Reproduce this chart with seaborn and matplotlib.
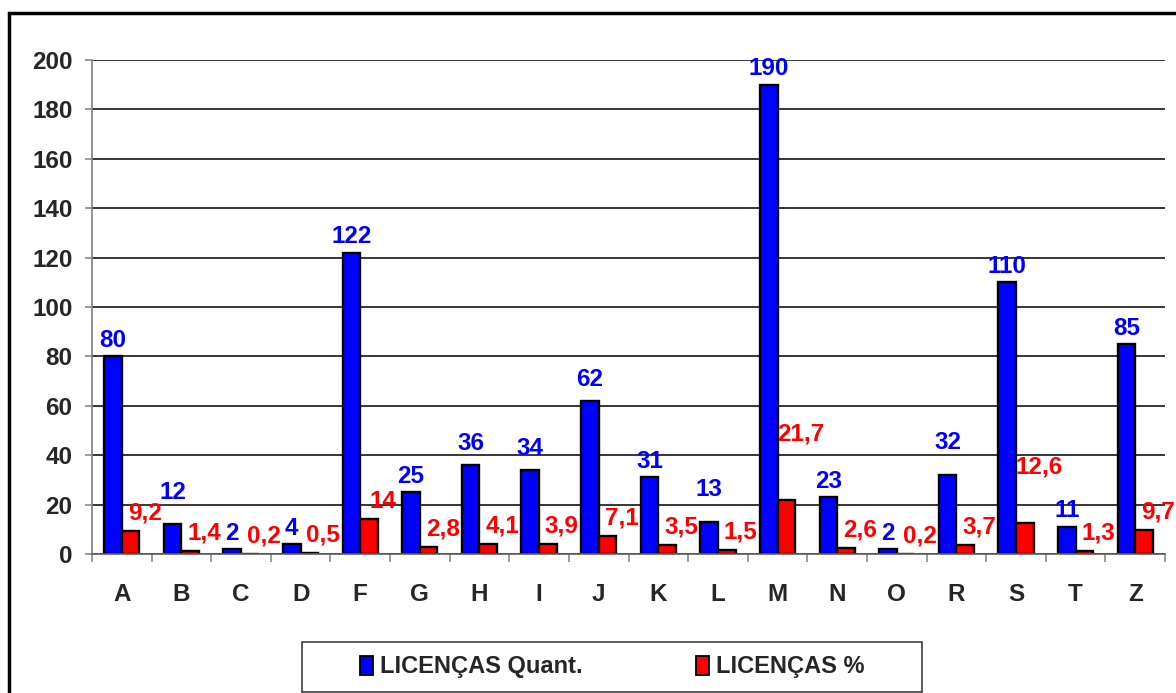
import matplotlib
matplotlib.use("Agg")
import matplotlib.pyplot as plt
from matplotlib.patches import Rectangle, Patch
import seaborn as sns
import pandas as pd

# ---- data ----
categories = ["A", "B", "C", "D", "F", "G", "H", "I", "J", "K", "L", "M", "N", "O", "R", "S", "T", "Z"]
quant = [80, 12, 2, 4, 122, 25, 36, 34, 62, 31, 13, 190, 23, 2, 32, 110, 11, 85]
percent = [9.2, 1.4, 0.2, 0.5, 14, 2.8, 4.1, 3.9, 7.1, 3.5, 1.5, 21.7, 2.6, 0.2, 3.7, 12.6, 1.3, 9.7]
series_names = ["LICENÇAS Quant.", "LICENÇAS %"]
y_ticks = [0, 20, 40, 60, 80, 100, 120, 140, 160, 180, 200]

# ---- style ----
W, H = 1176, 693
BLUE, RED = "#0000FF", "#FF0000"
FS = 17.5
sns.set_style("white")
plt.rcParams["font.family"] = ["Liberation Sans", "DejaVu Sans"]
plt.rcParams["font.weight"] = "bold"

# label offsets (pixels above bar top); extra lift for a few labels
blue_off_default = 16
blue_extra = {"B": 16, "H": 6, "I": 6, "J": 5, "L": 16, "R": 16}
red_off_default = 18
red_extra = {"M": 48, "S": 38}

df = pd.DataFrame({
    "cat": categories * 2,
    "serie": [series_names[0]] * len(categories) + [series_names[1]] * len(categories),
    "val": quant + percent,
})

fig = plt.figure(figsize=(W / 100, H / 100), dpi=100)
ax = fig.add_axes([92 / W, 1 - 554 / H, (1165 - 92) / W, (554 - 60) / H])

sns.barplot(data=df, x="cat", y="val", hue="serie", order=categories,
            hue_order=series_names, palette=[BLUE, RED], width=0.59,
            edgecolor="black", linewidth=1.7, saturation=1, legend=False, ax=ax,
            errorbar=None)

ax.set_ylim(0, 200)
ax.set_xlim(-0.5, len(categories) - 0.5)
ax.set_yticks(y_ticks)
ax.set_xlabel("")
ax.set_ylabel("")
ax.yaxis.grid(True, color="black", linewidth=1.1)
ax.set_axisbelow(True)
for s in ["top", "right"]:
    ax.spines[s].set_visible(False)
ax.spines["left"].set_color("#808080")
ax.spines["left"].set_linewidth(1.2)
ax.spines["bottom"].set_color("#606060")
ax.spines["bottom"].set_linewidth(1.2)

ax.tick_params(axis="y", which="major", length=5, width=1.1, color="#808080",
               labelsize=FS, pad=9, left=True)
ax.tick_params(axis="x", which="major", length=0, labelsize=FS, pad=21)
ax.set_xticks([i + 0.5 for i in range(-1, len(categories))], minor=True)
ax.tick_params(axis="x", which="minor", length=6, width=1.1, color="#808080", bottom=True)
for lab in ax.get_xticklabels() + ax.get_yticklabels():
    lab.set_fontweight("bold")


def fmt(v):
    if float(v).is_integer():
        return str(int(v))
    return f"{v}".replace(".", ",")


blue_bars, red_bars = ax.containers[0], ax.containers[1]
for cat, bar, v in zip(categories, blue_bars, quant):
    x = bar.get_x() + bar.get_width() / 2
    ax.annotate(fmt(v), (x, bar.get_height()),
                xytext=(0, blue_off_default + blue_extra.get(cat, 0)),
                textcoords="offset pixels", ha="center", va="center",
                color=BLUE, fontsize=FS, fontweight="bold", annotation_clip=False)
for cat, bar, v in zip(categories, red_bars, percent):
    x = bar.get_x() + bar.get_width() / 2
    ax.annotate(fmt(v), (x, bar.get_height()),
                xytext=(14, red_off_default + red_extra.get(cat, 0)),
                textcoords="offset pixels", ha="center", va="center",
                color=RED, fontsize=FS, fontweight="bold", annotation_clip=False)

# legend box and legend
fig.patches.append(Rectangle((302 / W, 1 - 692 / H), (922 - 302) / W, (692 - 642) / H,
                             transform=fig.transFigure, fill=False,
                             edgecolor="#404040", linewidth=1.2))
handles = [Patch(facecolor=BLUE, edgecolor="black", linewidth=1.3),
           Patch(facecolor=RED, edgecolor="black", linewidth=1.3)]
fig.legend(handles, series_names, loc="center",
           bbox_to_anchor=((302 + 922) / 2 / W, 1 - 667 / H),
           ncol=2, frameon=False, handlelength=0.55, handleheight=0.85,
           handletextpad=0.3, columnspacing=4.8,
           prop={"weight": "bold", "size": 17})

# outer chart frame (extends past image edge)
fig.patches.append(Rectangle((9 / W, -0.2), 1.5, (693 - 13) / H + 0.2,
                             transform=fig.transFigure, fill=False,
                             edgecolor="black", linewidth=2.5, clip_on=False))

fig.savefig("out.png", dpi=100)
